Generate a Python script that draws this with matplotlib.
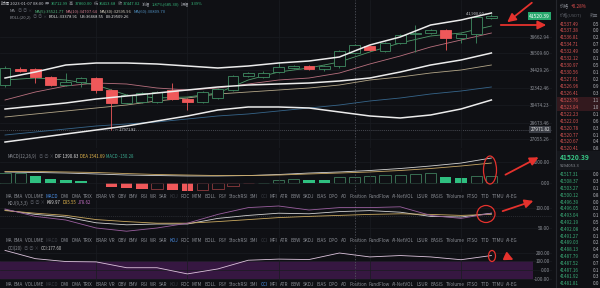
import matplotlib
matplotlib.use('Agg')
import matplotlib.pyplot as plt
from matplotlib.patches import Ellipse, Rectangle
from matplotlib.ticker import FixedLocator, NullLocator, FuncFormatter

plt.rcParams['font.family'] = ['Noto Sans CJK SC', 'DejaVu Sans']

# ---- candles, oldest -> newest
opens = [32677, 34550, 34550, 33600, 32677, 33019, 33483, 32113, 30692, 30800, 30800,
         32113, 31123, 30800, 31231, 32113, 33717, 33600, 34190, 34670, 34912, 34550,
         34912, 36529, 37431, 36784, 37826, 39028, 39163, 39577, 38488, 39028, 41250]
closes = [34670, 34309, 33600, 32677, 33019, 33483, 32113, 30692, 31559, 31779, 31890,
          31123, 30800, 31890, 32225, 33717, 34071, 34071, 34791, 34912, 34550, 34912,
          36784, 37562, 36911, 37826, 38891, 39163, 39577, 38488, 39028, 41408, 41520.39]
highs = [34912, 34790, 34670, 33700, 34071, 33600, 33600, 32225, 31669, 31890, 32000,
         32905, 31231, 32000, 32337, 33834, 34190, 34309, 35402, 35034, 35034, 35034,
         36911, 37693, 37562, 38000, 39028, 40271, 39700, 39700, 39163, 41500, 41900]
lows = [32450, 34190, 32905, 32563, 32563, 32450, 31779, 27971.82, 30580, 30692, 30692,
        31014, 29953, 30692, 31123, 32000, 33600, 33483, 34071, 34550, 34429, 34309,
        34670, 36400, 36784, 36656, 37693, 36656, 39028, 36911, 37826, 37826, 41100]
last_price = 41520.39
cross_price = 27971.82
cross_idx = 23
price_ticks = [38662.94, 36509.60, 34429.26, 32342.46, 30474.23, 28673.46, 27055.26]

# ---- overlay lines, read every second candle
line_idx = list(range(0, 33, 2))
boll_up = [33483, 34190, 35034, 35279, 35279, 35156, 34912, 34670, 34912, 35279, 35525,
           36024, 37562, 38622, 40271, 40978, 41990]
boll_mid = [30058, 30374, 30692, 31123, 31449, 31779, 32113, 32450, 32677, 32790, 32905,
            33135, 33483, 34190, 35034, 35649, 36529]
boll_low = [26791, 27168, 27550, 27937, 28330, 28829, 29335, 29953, 30268, 30268, 30163,
            29746, 29335, 29131, 29437, 30058, 31014]
ma5 = [33250, 33483, 33250, 32677, 31559, 31231, 31340, 31779, 33250, 34190, 34670,
       35402, 36656, 37826, 38757, 39163, 40132]
ma10 = [31014, 31890, 32563, 32905, 32790, 32337, 32113, 32337, 32790, 33250, 33483,
        34071, 35156, 36149, 37302, 38220, 39163]
ma30 = [29233, 29540, 29850, 30163, 30479, 30907, 31231, 31669, 31890, 32113, 32337,
        32677, 33250, 33600, 34071, 34429, 35034]
ma60 = [27454, 27743, 28034, 28330, 28529, 28728, 29030, 29335, 29540, 29850, 30163,
        30479, 30907, 31231, 31669, 32002, 32450]

# ---- MACD
macd_hist = [950, 960, 640, 350, 260, 190, -20, -380, -500, -570, -540, -700, -790, -640,
             -570, -260, -30, 30, 320, 380, 320, 300, 570, 580, 700, 790, 800, 810, 950,
             570, 480, 640, 700]
dif = [1050, 1000, 950, 860, 760, 710, 670, 670, 710, 810, 950, 1050, 1190, 1380, 1620,
       1900, 2380]
dea = [1100, 1100, 1050, 1000, 900, 810, 760, 710, 710, 760, 860, 950, 1050, 1190, 1380,
       1620, 1900]
macd_ticks = [0, 2000]

# ---- KDJ
kdj_k = [95, 84, 77.5, 63, 58, 60, 60, 74, 81.5, 87, 85.5, 91, 93.5, 89.5, 79, 77.5, 87]
kdj_d = [93.5, 87, 81.5, 71, 66, 62, 62, 66, 71, 76, 79, 81.5, 84, 85.5, 84, 81.5, 84]
kdj_j = [97.5, 79, 70, 50, 42, 50, 62, 84, 101, 105, 95, 101, 101, 103, 81.5, 74, 87]
kdj_ticks = [50, 100]

# ---- CCI
cci = [225, 130, 97, 93, 26, 26, -45, 12, 112, 125, 120, 195, 150, 166, 150, 118, 166]
cci_ticks = [-100, 0, 100, 200]

# ---- order book
ask_prices = [41537.49, 41537.38, 41536.81, 41534.71, 41532.49, 41532.12, 41530.97,
              41530.56, 41527.91, 41526.96, 41526.41, 41523.76, 41523.04, 41522.23,
              41522.03, 41520.78, 41520.77, 41520.67, 41520.41]
ask_sizes = [0.5, 0.0, 0.2, 0.7, 0.0, 0.1, 0.5, 0.1, 0.2, 0.9, 0.3,
             1.1, 1.0, 0.1, 0.6, 0.3, 0.1, 0.4, 0.8]
bid_prices = [41517.31, 41508.37, 41503.27, 41500.12, 41496.39, 41496.05, 41493.04,
              41492.19, 41492.08, 41491.27, 41489.03, 41488.13, 41487.79, 41487.52,
              41487.16, 41481.92, 41481.81]
bid_sizes = [0.0, 0.3, 0.1, 0.8, 0.0, 0.2, 0.1, 0.5, 0.4, 0.1, 0.2,
             0.4, 0.0, 0.7, 0.1, 0.3, 0.0]

tabs = ['MA', 'EMA', 'VOLUME', 'MACD', 'DMI', 'DMA', 'TRIX', 'BRAR', 'VR', 'OBV', 'EMV',
        'RSI', 'WR', 'SAR', 'KDJ', 'ROC', 'MTM', 'BOLL', 'PSY', 'StochRSI', 'SMI', 'CCI',
        'MFI', 'ATR', 'BBW', 'SKDJ', 'BIAS', 'DPO', 'AO', 'Position', 'FundFlow',
        'AI-NetVOL', 'LSUR', 'BASIS', 'TVolume', 'FTSO', 'TTD', 'TTMU', 'AI-EG']

BG = '#0f1014'
GRID = '#1a1c21'
TXT = '#8b8e95'
UP = '#2fbf80'
UP_EDGE = '#3f8c62'
DOWN = '#ef585a'
RED_MARK = '#e5322d'

W, H = 600, 288
fig = plt.figure(figsize=(6, 2.88), dpi=100, facecolor=BG)

STEP, X0 = 15.2, 5
XR = 552


def px_axes(y0, y1, x0=0, x1=XR):
    a = fig.add_axes([x0 / W, 1 - y1 / H, (x1 - x0) / W, (y1 - y0) / H])
    a.set_facecolor('none')
    a.set_xlim(-X0 / STEP, (XR - X0) / STEP)
    for s in a.spines.values():
        s.set_visible(False)
    a.set_xticks([6, 12, 18, 24, 30])
    a.tick_params(axis='x', length=0, labelbottom=False)
    a.grid(axis='x', color=GRID, lw=0.5)
    a.grid(axis='y', color=GRID, lw=0.5)
    return a


def right_labels(a, ticks, fmt):
    a.yaxis.set_major_locator(FixedLocator(ticks))
    a.yaxis.set_minor_locator(NullLocator())
    a.yaxis.set_major_formatter(FuncFormatter(lambda v, p: fmt.format(v)))
    a.tick_params(axis='y', which='both', length=0, pad=-1.5, labelsize=3.4,
                  labelcolor=TXT, left=False, labelleft=False, right=True, labelright=True)
    for lab in a.get_yticklabels():
        lab.set_horizontalalignment('right')


# ---------------- main price chart
ax = px_axes(0, 148)
ax.set_yscale('log')
ax.set_ylim(26239, 43935)
right_labels(ax, price_ticks, '{:.2f}')

idx = list(range(len(opens)))
for i in idx:
    o, c = opens[i], closes[i]
    up = c >= o
    ax.vlines(i, lows[i], highs[i], color=UP_EDGE if up else DOWN, lw=0.6, zorder=3)
    ax.bar(i, abs(c - o), bottom=min(o, c), width=0.7,
           facecolor=BG if up else DOWN, edgecolor=UP_EDGE if up else DOWN,
           linewidth=0.6, zorder=4)

ax.plot(line_idx, ma60, color='#36658a', lw=0.6, zorder=2)
ax.plot(line_idx, ma30, color='#b3a688', lw=0.6, zorder=2)
ax.plot(line_idx, ma10, color='#b8707e', lw=0.6, zorder=2)
ax.plot(line_idx, ma5, color='#4f9a6a', lw=0.6, zorder=2)
for band in (boll_up, boll_mid, boll_low):
    ax.plot(line_idx, band, color='#ececec', lw=1.1, zorder=5)

ax.axhline(cross_price, color='#5a5d66', lw=0.5, ls=(0, (1.5, 1.5)), zorder=1)
lo_i = lows.index(min(lows))
ax.text(lo_i + 0.25, min(lows), '— {:.2f}'.format(min(lows)), color='#cfd1d6',
        fontsize=2.8, va='center', ha='left', zorder=6)
hi_i = highs.index(max(highs))
ax.text(hi_i - 0.2, max(highs), '{:,.2f} —'.format(max(highs)), color='#cfd1d6',
        fontsize=2.8, va='center', ha='right', zorder=6)
ytr = ax.get_yaxis_transform()
ax.text(0.9964, last_price, '{:.2f}'.format(last_price), transform=ytr, ha='right',
        va='center', fontsize=3.6, color='white', zorder=7,
        bbox=dict(boxstyle='square,pad=0.25', fc='#27a86d', ec='none'))
ax.text(0.9964, cross_price, '{:.2f}'.format(cross_price), transform=ytr, ha='right',
        va='center', fontsize=3.4, color='#e8e8e8', zorder=7,
        bbox=dict(boxstyle='square,pad=0.25', fc='#3a3d45', ec='none'))

# ---------------- MACD
am = px_axes(150, 192)
am.set_ylim(-857, 3143)
right_labels(am, macd_ticks, '{:.2f}')
for i, v in enumerate(macd_hist):
    rising = i == 0 or v >= macd_hist[i - 1]
    col = UP if v >= 0 else DOWN
    edge = '#3f7d5c' if v >= 0 else '#8e3b3d'
    if rising:
        am.bar(i, v, width=0.75, facecolor='none', edgecolor=edge, linewidth=0.6)
    else:
        am.bar(i, v, width=0.75, color=col, linewidth=0)
am.plot(line_idx, dif, color='#d4d4d4', lw=0.6)
am.plot(line_idx, dea, color='#c9a865', lw=0.6)

# ---------------- KDJ
ak = px_axes(200, 238)
ak.set_ylim(25, 120)
right_labels(ak, kdj_ticks, '{:.2f}')
ak.axhline(80, color='#33363d', lw=0.5, ls=(0, (1.5, 1.5)))
ak.plot(line_idx, kdj_k, color='#d2d2d2', lw=0.6)
ak.plot(line_idx, kdj_d, color='#c9a860', lw=0.6)
ak.plot(line_idx, kdj_j, color='#9a5f9f', lw=0.6)

# ---------------- CCI
ac = px_axes(245, 282)
ac.set_ylim(-138, 287)
right_labels(ac, cci_ticks, '{:.2f}')
ac.axhspan(-100, 100, xmax=533 / XR, color='#361741', lw=0, zorder=0)
ac.plot(line_idx, cci, color='#dcc3dc', lw=0.6)

for a in (ax, am, ak, ac):
    a.axvline(cross_idx, color='#5a5d66', lw=0.5, ls=(0, (2, 2)), zorder=1)

# ---------------- overlay in pixel units: texts, order book, marks
ov = fig.add_axes([0, 0, 1, 1])
ov.set_xlim(0, W)
ov.set_ylim(H, 0)
ov.axis('off')
ov.set_zorder(10)
ov.patch.set_alpha(0)
rend = fig.canvas.get_renderer()


def run(x, y, parts, size=3.1, gap=1.6):
    for s, c in parts:
        t = ov.text(x, y, s, color=c, fontsize=size, va='center', ha='left')
        x += t.get_window_extent(rend).width + gap
    return x


GV = '#35b57a'
ICON = '#4a4d55'
run(1, 4, [('时间 2023-01-07 08:00', '#c8cad0'), ('开', TXT), ('36712.99', GV),
           ('高', TXT), ('37860.00', GV), ('低', TXT), ('36413.68', GV),
           ('收', TXT), ('37447.02', GV), ('涨幅', TXT), ('1.87%(685.30)', GV),
           ('振幅', TXT), ('3.39%', GV)], size=3.0, gap=1.4)
run(10, 11, [('MA', TXT), ('◎ ◎ ×', ICON), ('MA(5):35521.77', '#4fb078'),
             ('MA(10):34707.64', '#d07a8c'), ('MA(30):32595.96', '#d6d0c0'),
             ('MA(60):30809.70', '#4f8fc0')], size=3.0, gap=2.2)
run(10, 17, [('BOLL(20,2)', TXT), ('◎ ◎ ×', ICON), ('BOLL:33378.91', '#e8e8e8'),
             ('UB:36468.55', '#e8e8e8'), ('LB:29509.26', '#e8e8e8')], size=3.0)
run(8, 156, [('MACD(12,26,9)', TXT), ('◎ ◎ ×', ICON), ('DIF 1390.83', '#e0e0e0'),
             ('DEA 1541.69', '#e3b64c'), ('MACD -150.28', '#3aa88e')])
run(8, 203, [('KDJ(9,3,3)', TXT), ('◎ ◎ ×', ICON), ('K89.97', '#e0e0e0'),
             ('D95.55', '#e3b64c'), ('J78.62', '#c46fc4')])
run(8, 248, [('CCI(20)', TXT), ('◎ ◎ ×', ICON), ('CCI:177.60', '#c8c8c8')])


def tab_row(y, active, dim):
    ts = []
    for w in tabs:
        col = '#4a8fe7' if w == active else ('#3a3d44' if w in dim else TXT)
        ts.append(ov.text(0, y, w, color=col, fontsize=3.3, va='center', ha='left'))
    widths = [t.get_window_extent(rend).width for t in ts]
    gap = (518 - 5 - sum(widths)) / (len(ts) - 1)
    x = 5
    for t, wd in zip(ts, widths):
        t.set_x(x)
        x += wd + gap


tab_row(196, 'MACD', ('KDJ', 'CCI'))
tab_row(241, 'KDJ', ('MACD', 'CCI'))
tab_row(285, 'CCI', ('MACD', 'KDJ'))

# order book
ov.plot([555.5, 555.5], [0, H], color='#25272d', lw=0.8)
ov.text(560, 6, '价格', color=TXT, fontsize=3.3, va='center')
ov.text(571, 6, '+0.28%', color='#e0504f', fontsize=3.3, va='center')
ov.text(560, 15, '价格(USDT)', color='#5d6068', fontsize=3.0, va='center')
ov.text(590, 15, '数量', color='#5d6068', fontsize=3.0, va='center')
for k, (p, s) in enumerate(zip(ask_prices, ask_sizes)):
    y = 24 + 6.94 * k
    if k in (11, 12):
        ov.add_patch(Rectangle((557, y - 3.3), 43, 6.6, color='#33191e', lw=0))
    ov.text(560, y, '{:.2f}'.format(p), color='#d65352', fontsize=3.3, va='center')
    ov.text(592.5, y, '{:.1f}'.format(s), color='#b8bac0', fontsize=3.3, va='center')
ov.add_patch(Rectangle((557, 151), 43, 19, color='#15171c', lw=0))
ov.text(559.5, 157.5, '{:.2f}'.format(last_price), color='#37c585', fontsize=4.8,
        va='center', fontweight='bold')
ov.text(560, 166, '¥294053.3', color='#8b8e95', fontsize=3.0, va='center')
for k, (p, s) in enumerate(zip(bid_prices, bid_sizes)):
    y = 175 + 6.8 * k
    ov.text(560, y, '{:.2f}'.format(p), color='#3aad78', fontsize=3.3, va='center')
    ov.text(592.5, y, '{:.1f}'.format(s), color='#b8bac0', fontsize=3.3, va='center')

# red hand-drawn marks
arw = dict(arrowstyle='-|>,head_length=0.5,head_width=0.25', color=RED_MARK, lw=1.3)
ov.annotate('', xy=(505, 24), xytext=(534, 1), arrowprops=arw)
ov.annotate('', xy=(549, 25), xytext=(498, 25), arrowprops=arw)
ov.add_patch(Ellipse((490, 170), 13, 28, fill=False, ec=RED_MARK, lw=0.9))
ov.annotate('', xy=(541, 156), xytext=(503, 176), arrowprops=arw)
ov.add_patch(Ellipse((486, 214), 18, 17, fill=False, ec=RED_MARK, lw=0.9))
ov.annotate('', xy=(536, 200), xytext=(500, 212), arrowprops=arw)
ov.add_patch(Ellipse((492, 256), 7, 11, fill=False, ec=RED_MARK, lw=0.9))
ov.annotate('', xy=(516, 261), xytext=(503, 255), arrowprops=arw)

fig.savefig('out.png', dpi=100, facecolor=BG)
